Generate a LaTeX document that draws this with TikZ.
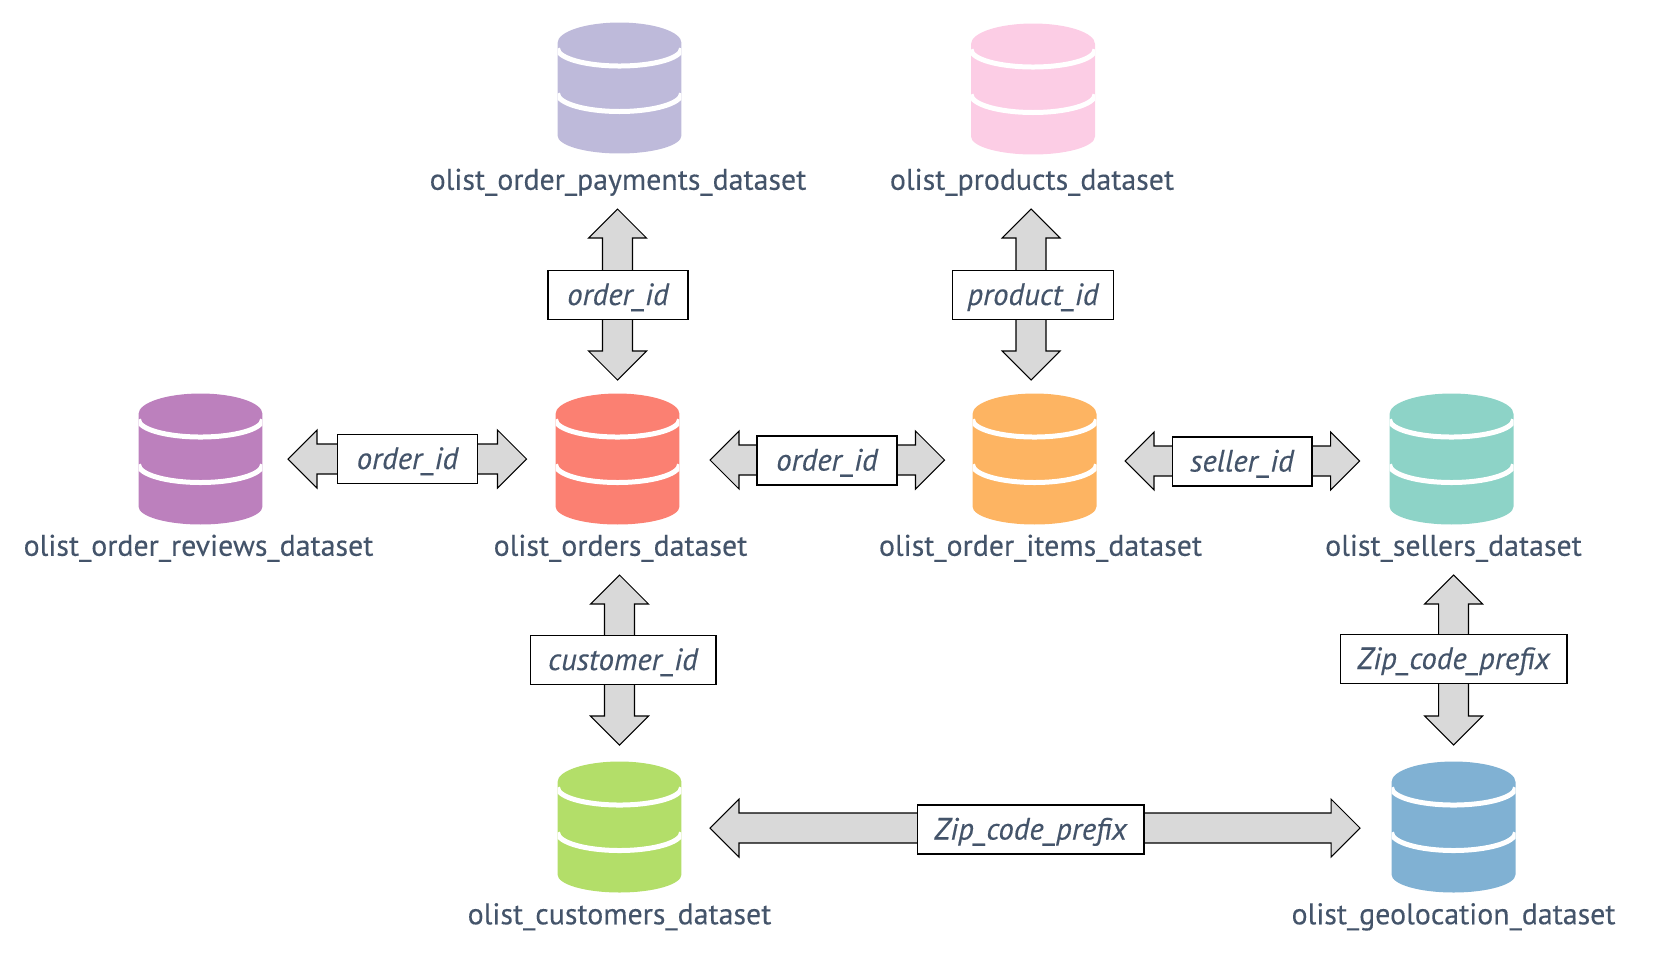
\documentclass[tikz,border=0pt]{standalone}
\usepackage{fontspec}
\setmainfont{PT Sans}[FakeBold=.25]
\usetikzlibrary{calc}
\definecolor{labelblue}{HTML}{44546A}
\definecolor{arrowgray}{HTML}{D9D9D9}
\definecolor{paycol}{HTML}{BEBADA}
\definecolor{prodcol}{HTML}{FCCDE5}
\definecolor{revcol}{HTML}{BC80BD}
\definecolor{ordcol}{HTML}{FB8072}
\definecolor{itemcol}{HTML}{FDB462}
\definecolor{sellcol}{HTML}{8DD3C7}
\definecolor{custcol}{HTML}{B3DE69}
\definecolor{geocol}{HTML}{80B1D3}
\tikzset{
    dbcyl/.style={
        inner sep=0pt, minimum width=2.48cm, minimum height=2.62cm,
        path picture={
            \begin{scope}[shift={(path picture bounding box.center)}]
                \fill[#1] (-1.24cm, .9cm) arc[start angle=180, end angle=0, x radius=1.24cm, y radius=.41cm]
                    -- (1.24cm, -.95cm) arc[start angle=0, end angle=-180, x radius=1.24cm, y radius=.36cm] -- cycle;
                \draw[white, line width=.1cm] (-1.24cm, .79cm)
                    arc[start angle=180, end angle=360, x radius=1.24cm, y radius=.35cm];
                \draw[white, line width=.1cm] (-1.24cm, -.11cm)
                    arc[start angle=180, end angle=360, x radius=1.24cm, y radius=.36cm];
            \end{scope}
        },
    },
    dbname/.style={text=labelblue, text height=.45cm, text depth=.1cm,
        font=\fontsize{17}{19}\selectfont},
    keybox/.style={draw=black, fill=white, line width=.6pt, inner sep=0pt,
        text=labelblue, text height=.5cm, text depth=.1cm,
        font=\fontsize{17.5}{19}\selectfont\itshape,
        minimum height=.98cm},
    linkarrow/.style={draw=black, fill=arrowgray, line width=.6pt, line join=miter},
}
\newcommand{\dbarrow}[2]{
    \coordinate (#1h) at ($(#1)!.58cm!(#2)$);
    \coordinate (#2h) at ($(#2)!.58cm!(#1)$);
    \draw[linkarrow] (#1) -- ($(#1h)!.58cm!90:(#2)$) -- ($(#1h)!.3cm!90:(#2)$)
        -- ($(#2h)!.3cm!-90:(#1)$) -- ($(#2h)!.58cm!-90:(#1)$) -- (#2)
        -- ($(#2h)!.58cm!90:(#1)$) -- ($(#2h)!.3cm!90:(#1)$)
        -- ($(#1h)!.3cm!-90:(#2)$) -- ($(#1h)!.58cm!-90:(#2)$) -- cycle;
}
\begin{document}
\begin{tikzpicture}[
            x=.02cm, y=.02cm,
        ]
            \useasboundingbox (0, 0) rectangle (1655, -971);
            % databases
            \node[dbcyl=paycol] (payments) at (619.5, -88) {};
            \node[dbcyl=prodcol] (products) at (1033, -89) {};
            \node[dbcyl=revcol] (reviews) at (200.5, -459) {};
            \node[dbcyl=ordcol] (orders) at (617.5, -459) {};
            \node[dbcyl=itemcol] (items) at (1034.5, -459) {};
            \node[dbcyl=sellcol] (sellers) at (1451.5, -459) {};
            \node[dbcyl=custcol] (customers) at (619.5, -827) {};
            \node[dbcyl=geocol] (geolocation) at (1453.5, -827) {};
            % names
            \node[dbname] (paymentsname) at (618, -181) {olist\_order\_payments\_dataset};
            \node[dbname] (productsname) at (1032, -181) {olist\_products\_dataset};
            \node[dbname] (reviewsname) at (198.5, -547) {olist\_order\_reviews\_dataset};
            \node[dbname] (ordersname) at (620.5, -547) {olist\_orders\_dataset};
            \node[dbname] (itemsname) at (1040.5, -547) {olist\_order\_items\_dataset};
            \node[dbname] (sellersname) at (1453.5, -547) {olist\_sellers\_dataset};
            \node[dbname] (customersname) at (619.5, -915.5) {olist\_customers\_dataset};
            \node[dbname] (geolocationname) at (1453.5, -915.5) {olist\_geolocation\_dataset};
            % arrow ends
            \coordinate (payu) at (617.5, -209);
            \coordinate (payd) at (617.5, -380);
            \coordinate (produ) at (1031, -209);
            \coordinate (prodd) at (1031, -380);
            \coordinate (revl) at (288, -459);
            \coordinate (revr) at (526.5, -459);
            \coordinate (iteml) at (710, -460);
            \coordinate (itemr) at (944.5, -460);
            \coordinate (selll) at (1125, -461);
            \coordinate (sellr) at (1359.5, -461);
            \coordinate (custu) at (619.5, -575);
            \coordinate (custd) at (619.5, -745);
            \coordinate (geou) at (1453.5, -575);
            \coordinate (geod) at (1453.5, -745);
            \coordinate (zipl) at (710, -828);
            \coordinate (zipr) at (1360, -828);
            \dbarrow{payu}{payd}
            \dbarrow{produ}{prodd}
            \dbarrow{revl}{revr}
            \dbarrow{iteml}{itemr}
            \dbarrow{selll}{sellr}
            \dbarrow{custu}{custd}
            \dbarrow{geou}{geod}
            \dbarrow{zipl}{zipr}
            % keys
            \node[keybox, minimum width=2.8cm] (paykey) at (618, -295) {order\_id};
            \node[keybox, minimum width=3.22cm] (prodkey) at (1033, -295) {product\_id};
            \node[keybox, minimum width=2.8cm] (revkey) at (407.5, -459) {order\_id};
            \node[keybox, minimum width=2.8cm] (itemkey) at (827, -460.5) {order\_id};
            \node[keybox, minimum width=2.8cm] (sellkey) at (1242, -461.5) {seller\_id};
            \node[keybox, minimum width=3.72cm] (custkey) at (623, -660) {customer\_id};
            \node[keybox, minimum width=4.54cm] (geokey) at (1453.5, -659) {Zip\_code\_prefix};
            \node[keybox, minimum width=4.54cm] (zipkey) at (1030.5, -829.5) {Zip\_code\_prefix};
        \end{tikzpicture}
\end{document}
